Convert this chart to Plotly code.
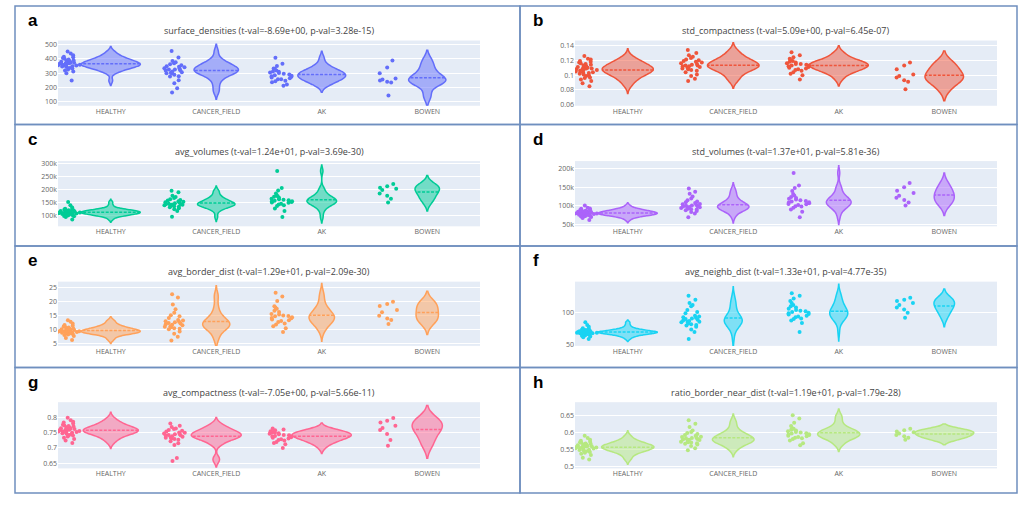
import plotly.graph_objects as go
from plotly.subplots import make_subplots

groups = ["HEALTHY", "CANCER_FIELD", "AK", "BOWEN"]

# ---- a: surface_densities ----
surf_healthy = [372, 358, 415, 390, 347, 332, 401, 438, 365, 352, 380, 325, 338, 406, 359, 375, 312, 388,
                452, 343, 367, 396, 355, 300, 426, 378, 349, 362, 411, 336, 385, 319, 370, 353, 248]
surf_cancer = [332, 370, 298, 455, 276, 321, 349, 385, 288, 307, 362, 250, 325, 341, 410, 299, 312, 194,
               356, 335, 278, 318, 165, 377, 303, 344, 230, 326]
surf_ak = [278, 312, 247, 365, 296, 258, 330, 282, 221, 305, 350, 269, 290, 236, 318, 275, 408, 258, 301,
           212, 285, 332, 265, 243, 310]
surf_bowen = [388, 339, 255, 234, 143, 262, 240, 300, 248]

# ---- b: std_compactness ----
stdc_healthy = [0.108, 0.112, 0.103, 0.118, 0.099, 0.106, 0.121, 0.094, 0.110, 0.115, 0.101, 0.107, 0.126,
                0.089, 0.104, 0.113, 0.109, 0.097, 0.119, 0.105, 0.111, 0.100, 0.116, 0.092, 0.108, 0.114,
                0.102, 0.122, 0.096, 0.107, 0.110, 0.085, 0.117, 0.104, 0.109]
stdc_cancer = [0.113, 0.120, 0.106, 0.127, 0.109, 0.116, 0.134, 0.101, 0.112, 0.118, 0.095, 0.114, 0.123,
               0.108, 0.111, 0.130, 0.104, 0.117, 0.092, 0.115, 0.121, 0.110, 0.099, 0.113, 0.125, 0.107,
               0.119, 0.112]
stdc_ak = [0.113, 0.118, 0.107, 0.124, 0.110, 0.115, 0.131, 0.104, 0.112, 0.120, 0.094, 0.116, 0.109, 0.122,
           0.111, 0.100, 0.114, 0.127, 0.106, 0.117, 0.113, 0.102, 0.119, 0.108, 0.115]
stdc_bowen = [0.117, 0.113, 0.101, 0.097, 0.093, 0.081, 0.091, 0.108, 0.099]

# ---- c: avg_volumes ----
avgv_healthy = [112e3, 118e3, 105e3, 124e3, 109e3, 98e3, 131e3, 115e3, 102e3, 120e3, 111e3, 127e3, 107e3,
                95e3, 116e3, 113e3, 140e3, 104e3, 119e3, 110e3, 123e3, 101e3, 114e3, 108e3, 152e3, 117e3,
                99e3, 121e3, 112e3, 106e3, 126e3, 86e3, 115e3, 109e3, 118e3]
avgv_cancer = [146e3, 158e3, 132e3, 171e3, 140e3, 151e3, 125e3, 163e3, 143e3, 136e3, 189e3, 148e3, 129e3,
               155e3, 141e3, 118e3, 167e3, 145e3, 138e3, 176e3, 150e3, 96e3, 144e3, 160e3, 134e3, 153e3,
               142e3, 195e3]
avgv_ak = [157e3, 172e3, 140e3, 185e3, 150e3, 163e3, 128e3, 196e3, 155e3, 146e3, 178e3, 161e3, 118e3,
           168e3, 152e3, 143e3, 205e3, 159e3, 137e3, 270e3, 165e3, 149e3, 95e3, 174e3, 154e3]
avgv_bowen = [221e3, 206e3, 203e3, 176e3, 165e3, 150e3, 198e3, 185e3, 212e3]

# ---- d: std_volumes ----
stdv_healthy = [80e3, 85e3, 74e3, 92e3, 78e3, 70e3, 88e3, 82e3, 76e3, 95e3, 79e3, 67e3, 84e3, 81e3, 73e3,
                90e3, 77e3, 86e3, 101e3, 75e3, 83e3, 79e3, 71e3, 87e3, 80e3, 62e3, 89e3, 78e3, 84e3, 76e3,
                93e3, 81e3, 72e3, 85e3, 79e3]
stdv_cancer = [96e3, 108e3, 88e3, 120e3, 92e3, 101e3, 83e3, 115e3, 99e3, 94e3, 147e3, 104e3, 86e3, 110e3,
               97e3, 79e3, 125e3, 100e3, 91e3, 133e3, 105e3, 69e3, 98e3, 112e3, 90e3, 103e3, 95e3, 138e3]
stdv_ak = [109e3, 124e3, 98e3, 140e3, 105e3, 117e3, 90e3, 155e3, 112e3, 102e3, 132e3, 115e3, 84e3, 121e3,
           107e3, 99e3, 148e3, 113e3, 95e3, 189e3, 119e3, 104e3, 69e3, 128e3, 110e3]
stdv_bowen = [162e3, 150e3, 141e3, 122e3, 116e3, 101e3, 135e3, 127e3, 109e3]

# ---- e: avg_border_dist ----
bord_healthy = [9.6, 10.4, 8.9, 11.5, 9.2, 8.3, 12.2, 10.1, 9.0, 10.8, 9.7, 7.8, 11.0, 9.4, 8.6, 12.9, 9.9,
                10.6, 7.1, 9.3, 10.2, 8.8, 11.7, 9.5, 6.4, 10.0, 9.1, 11.2, 8.5, 9.8, 10.5, 9.0, 13.4, 9.6, 8.2]
bord_cancer = [12.0, 13.5, 10.6, 15.2, 11.3, 12.7, 9.4, 16.1, 11.8, 10.2, 21.5, 13.0, 8.6, 14.2, 12.4, 7.5,
               17.3, 11.6, 10.9, 19.0, 12.9, 6.2, 11.1, 14.8, 10.4, 13.3, 12.2, 22.6]
bord_ak = [14.8, 16.3, 13.1, 18.4, 14.2, 15.6, 11.9, 20.2, 14.5, 12.8, 17.5, 15.1, 10.6, 16.8, 13.7, 12.2,
           21.8, 15.4, 13.4, 23.2, 14.9, 11.3, 9.2, 17.9, 14.1]
bord_bowen = [20.0, 18.5, 17.0, 15.0, 14.0, 16.2, 12.1, 19.2, 13.5]

# ---- f: avg_neighb_dist ----
neib_healthy = [70, 72, 68, 75, 69, 66, 78, 71, 67, 73, 70, 64, 74, 69, 67, 81, 70, 72, 62, 68, 71, 66, 76,
                70, 59, 71, 68, 74, 65, 70, 72, 68, 85, 69, 63]
neib_cancer = [88, 95, 82, 104, 86, 91, 78, 110, 87, 80, 120, 93, 74, 99, 89, 70, 112, 86, 83, 126, 92, 59,
               85, 101, 81, 94, 90, 115]
neib_ak = [100, 108, 93, 118, 98, 104, 88, 126, 101, 95, 112, 103, 84, 110, 97, 91, 130, 102, 94, 122, 106,
           90, 70, 115, 99]
neib_bowen = [123, 118, 112, 108, 100, 115, 92, 120, 105]

# ---- g: avg_compactness ----
comp_healthy = [0.758, 0.771, 0.745, 0.782, 0.752, 0.763, 0.737, 0.790, 0.756, 0.748, 0.775, 0.761, 0.729,
                0.767, 0.753, 0.742, 0.798, 0.759, 0.750, 0.779, 0.764, 0.733, 0.755, 0.770, 0.746, 0.762,
                0.724, 0.785, 0.757, 0.749, 0.766, 0.740, 0.773, 0.754, 0.716]
comp_cancer = [0.742, 0.756, 0.731, 0.768, 0.738, 0.750, 0.722, 0.779, 0.745, 0.734, 0.761, 0.747, 0.715,
               0.753, 0.740, 0.727, 0.772, 0.744, 0.736, 0.668, 0.749, 0.729, 0.658, 0.758, 0.741, 0.733,
               0.763, 0.710]
comp_ak = [0.739, 0.752, 0.728, 0.763, 0.735, 0.746, 0.719, 0.757, 0.741, 0.731, 0.749, 0.744, 0.712, 0.754,
           0.737, 0.724, 0.760, 0.742, 0.733, 0.700, 0.748, 0.726, 0.738, 0.750, 0.716]
comp_bowen = [0.797, 0.782, 0.765, 0.758, 0.726, 0.707, 0.772, 0.745, 0.788]

# ---- h: ratio_border_near_dist ----
ratio_healthy = [0.556, 0.566, 0.547, 0.575, 0.552, 0.561, 0.540, 0.583, 0.558, 0.549, 0.569, 0.560, 0.533,
                 0.564, 0.554, 0.544, 0.590, 0.557, 0.551, 0.572, 0.562, 0.537, 0.555, 0.567, 0.546, 0.559,
                 0.525, 0.578, 0.553, 0.548, 0.563, 0.542, 0.571, 0.556, 0.520]
ratio_cancer = [0.579, 0.592, 0.568, 0.605, 0.574, 0.586, 0.560, 0.615, 0.582, 0.571, 0.598, 0.584, 0.553,
                0.590, 0.577, 0.564, 0.635, 0.580, 0.572, 0.625, 0.587, 0.566, 0.547, 0.595, 0.578, 0.570,
                0.601, 0.583]
ratio_ak = [0.594, 0.607, 0.584, 0.618, 0.590, 0.601, 0.576, 0.628, 0.597, 0.586, 0.612, 0.599, 0.568, 0.605,
            0.592, 0.580, 0.650, 0.596, 0.588, 0.640, 0.603, 0.582, 0.562, 0.610, 0.593]
ratio_bowen = [0.610, 0.602, 0.596, 0.588, 0.584, 0.600, 0.578, 0.606, 0.592]

panels = [
    ("a", "surface_densities (t-val=-8.69e+00, p-val=3.28e-15)",
     [surf_healthy, surf_cancer, surf_ak, surf_bowen], "#636EFA"),
    ("b", "std_compactness (t-val=5.09e+00, p-val=6.45e-07)",
     [stdc_healthy, stdc_cancer, stdc_ak, stdc_bowen], "#EF553B"),
    ("c", "avg_volumes (t-val=1.24e+01, p-val=3.69e-30)",
     [avgv_healthy, avgv_cancer, avgv_ak, avgv_bowen], "#00CC96"),
    ("d", "std_volumes (t-val=1.37e+01, p-val=5.81e-36)",
     [stdv_healthy, stdv_cancer, stdv_ak, stdv_bowen], "#AB63FA"),
    ("e", "avg_border_dist (t-val=1.29e+01, p-val=2.09e-30)",
     [bord_healthy, bord_cancer, bord_ak, bord_bowen], "#FFA15A"),
    ("f", "avg_neighb_dist (t-val=1.33e+01, p-val=4.77e-35)",
     [neib_healthy, neib_cancer, neib_ak, neib_bowen], "#19D3F3"),
    ("g", "avg_compactness (t-val=-7.05e+00, p-val=5.66e-11)",
     [comp_healthy, comp_cancer, comp_ak, comp_bowen], "#FF6692"),
    ("h", "ratio_border_near_dist (t-val=1.19e+01, p-val=1.79e-28)",
     [ratio_healthy, ratio_cancer, ratio_ak, ratio_bowen], "#B6E880"),
]

# y-axis range and tick step per panel
yaxis_cfg = [
    dict(range=[72, 528], dtick=100),
    dict(range=[0.0587, 0.1467], dtick=0.02),
    dict(range=[60e3, 307.5e3], dtick=50e3),
    dict(range=[44.6e3, 221e3], dtick=50e3),
    dict(range=[4.3, 27.1], dtick=5),
    dict(range=[48.5, 148], dtick=50),
    dict(range=[0.634, 0.848], dtick=0.05),
    dict(range=[0.494, 0.688], dtick=0.05),
]

W, H = 1020, 505
col_x = [(58, 480), (575, 997)]
row_y = [(38, 104), (160, 226), (282, 347), (404, 471)]
frame_x = [(15, 520), (520, 1017)]
frame_y = [(3, 123), (123, 246), (246, 369), (369, 496)]

fig = make_subplots(rows=4, cols=2)
shapes = []
annotations = []

for i, (letter, title, series, color) in enumerate(panels):
    r, c = divmod(i, 2)
    xs, ys = [], []
    for g, vals in zip(groups, series):
        xs += [g] * len(vals)
        ys += vals
    fig.add_trace(
        go.Violin(
            x=xs, y=ys, points="all", pointpos=-1.4, jitter=0.4,
            width=0.56, line=dict(color=color, width=1.5),
            marker=dict(color=color, size=4), meanline_visible=True,
            showlegend=False, hoveron="points",
        ),
        row=r + 1, col=c + 1,
    )
    x0, x1 = col_x[c]
    y0, y1 = row_y[r]
    n = i + 1
    xa = "xaxis" if n == 1 else f"xaxis{n}"
    ya = "yaxis" if n == 1 else f"yaxis{n}"
    fig.layout[xa].update(
        domain=[x0 / W, x1 / W], range=[-0.5, 3.5], showgrid=False,
        categoryorder="array", categoryarray=groups,
        tickfont=dict(size=7, color="#666"), ticklen=0,
    )
    ycfg = yaxis_cfg[i]
    fig.layout[ya].update(
        domain=[1 - y1 / H, 1 - y0 / H], tickfont=dict(size=7, color="#666"),
        gridcolor="white", zeroline=False, **ycfg,
    )
    fx0, fx1 = frame_x[c]
    fy0, fy1 = frame_y[r]
    shapes.append(dict(type="rect", xref="paper", yref="paper",
                       x0=fx0 / W, x1=fx1 / W, y0=1 - fy1 / H, y1=1 - fy0 / H,
                       line=dict(color="#6f8fbf", width=1.5)))
    annotations.append(dict(text=f"<b>{letter}</b>", xref="paper", yref="paper",
                            x=(fx0 + 11) / W, y=1 - (fy0 + 15) / H, xanchor="left", yanchor="middle",
                            showarrow=False, font=dict(size=17, color="black", family="Arial")))
    annotations.append(dict(text=title, xref="paper", yref="paper",
                            x=(x0 + x1) / 2 / W, y=1 - (y0 - 10) / H, xanchor="center",
                            yanchor="middle", showarrow=False,
                            font=dict(size=9, color="#444")))

fig.update_layout(
    width=W, height=H, margin=dict(l=0, r=0, t=0, b=0),
    plot_bgcolor="#E5ECF6", paper_bgcolor="white",
    shapes=shapes, annotations=annotations,
    font=dict(family="Open Sans"),
    violinmode="overlay",
)

fig.write_html("out.html")
